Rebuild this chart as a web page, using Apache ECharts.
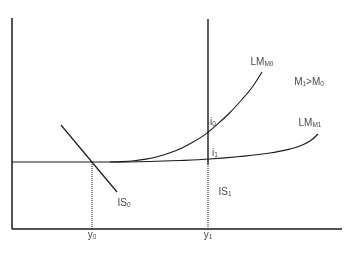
<!DOCTYPE html>
<html><head><meta charset="utf-8">
<script src="https://cdn.jsdelivr.net/npm/echarts@6/dist/echarts.min.js"></script>
<style>html,body{margin:0;padding:0;background:#fff}#c{width:360px;height:257px}</style>
</head><body><div id="c"></div>
<script>
// Axis frame (value units)
const xAxisLine = [[0,0],[330,0]];
const yAxisLine = [[0,0],[0,211]];
// LM curve for M1 (flat liquidity-trap segment then rising)
const lmM1 = [[0,67],[48,67],[98,67],[138,67.5],[168,68.5],[198,70],[228,72.5],[258,76],[278,80],[288,83],[298,88],[306,95]];
// LM curve for M0
const lmM0 = [[98,67],[110,67.4],[122,68.3],[134,69.9],[146,72.5],[158,76.2],[170,81.1],[182,87.4],[194,95.1],[206,105.3],[218,116.5],[230,129.5],[240,141.5],[250,157]];
// IS0 line
const is0 = [[49,104],[105,37]];
// IS1 vertical line (solid part) and dotted part
const is1 = [[196,64],[196,210]];
const is1Dotted = [[196,0],[196,64]];
// dotted drop from y0
const y0Drop = [[80,0],[80,67]];
// labels
const labels = [
  {value:[250,167], text:'{a|LM}{s|M0}'},
  {value:[297,147], text:'{a|M}{s|1}{a|>M}{s|0}'},
  {value:[298,106], text:'{a|LM}{s|M1}'},
  {value:[201,107], text:'{a|i}{s|0}'},
  {value:[203,76], text:'{a|i}{s|1}'},
  {value:[213,37], text:'{a|IS}{s|1}'},
  {value:[112,26], text:'{a|IS}{s|0}'},
  {value:[80,-6], text:'{a|y}{s|0}'},
  {value:[196,-6], text:'{a|y}{s|1}'}
];
const chart = echarts.init(document.getElementById('c'));
const lineBase = (data, w, type) => ({
  type:'line', data, symbol:'none', smooth: false, silent:true, animation:false,
  lineStyle:{color:'#1a1a1a', width:w, type:type||'solid'}
});
const rich = {
  a:{fontSize:10, color:'#111', fontFamily:'Liberation Sans, Arial, sans-serif'},
  s:{fontSize:6.5, color:'#111', fontFamily:'Liberation Sans, Arial, sans-serif', verticalAlign:'bottom', padding:[4,0,0,0]}
};
chart.setOption({
  animation:false,
  grid:{left:12, right:18, top:18, bottom:0},
  xAxis:{type:'value', min:0, max:330, show:false},
  yAxis:{type:'value', min:-28, max:211, show:false},
  series:[
    lineBase(xAxisLine,1.5),
    lineBase(yAxisLine,1.5),
    Object.assign(lineBase(lmM1,1.2),{smooth:0.4}),
    Object.assign(lineBase(lmM0,1.1),{smooth:0.3}),
    lineBase(is0,1.2),
    lineBase(is1,1.4),
    lineBase(is1Dotted,1,'dotted'),
    lineBase(y0Drop,1,'dotted'),
    {type:'scatter', symbolSize:0, silent:true, clip:false,
     data: labels.map(l=>({value:l.value, label:{formatter:l.text}})),
     label:{show:true, position:'inside', rich}}
  ]
});
</script></body></html>
